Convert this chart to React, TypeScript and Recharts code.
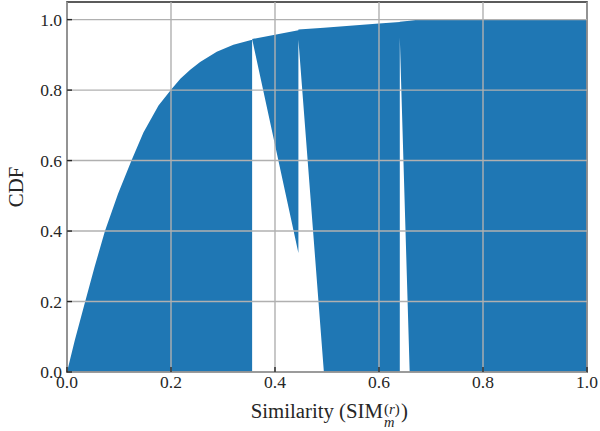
import { ComposedChart, Area, XAxis, YAxis, ReferenceLine, ReferenceArea, Label } from 'recharts'

// CDF outline: x position, lower and upper edge of the filled band
const simX = [
  0, 0.015, 0.035, 0.053, 0.073, 0.098, 0.124, 0.147, 0.176, 0.2, 0.218, 0.237, 0.256, 0.288, 0.32, 0.356,
  0.356, 0.445,
  0.445, 0.494, 0.6, 0.64,
  0.64, 0.659, 0.678, 1.0,
]
const cdfLow = [
  0, 0, 0, 0, 0, 0, 0, 0, 0, 0, 0, 0, 0, 0, 0, 0,
  0.945, 0.338,
  0.943, 0, 0, 0,
  0.949, 0, 0, 0,
]
const cdfHigh = [
  0, 0.09, 0.2, 0.298, 0.4, 0.505, 0.6, 0.68, 0.756, 0.801, 0.832, 0.858, 0.88, 0.909, 0.929, 0.943,
  0.945, 0.97,
  0.972, 0.977, 0.989, 0.993,
  0.994, 0.997, 1.0, 1.0,
]

const xTicks = [0, 0.2, 0.4, 0.6, 0.8, 1.0]
const yTicks = [0, 0.2, 0.4, 0.6, 0.8, 1.0]

const data = simX.map((x, i) => ({ x, band: [cdfLow[i], cdfHigh[i]] }))

const FONT = '"Liberation Serif", "Times New Roman", Times, serif'
const INK = '#262626'
const BLUE = '#1f77b4'
const GRID = '#b0b0b0'

function XLabel({ viewBox }: any) {
  const { x, y, width } = viewBox
  const cx = x + width / 2
  const base = y + 46.3
  return (
    <g style={{ fontFamily: FONT }} fill={INK}>
      <text x={cx + 56} y={base} fontSize={20.8} textAnchor="end">Similarity (SIM</text>
      <text x={cx + 57} y={base + 8.4} fontSize={14.5} fontStyle="italic">m</text>
      <text x={cx + 57} y={base - 4.8} fontSize={15}>
        (<tspan fontStyle="italic">r</tspan>)
      </text>
      <text x={cx + 74} y={base} fontSize={20.8}>)</text>
    </g>
  )
}

function YLabel({ viewBox }: any) {
  const { x, y, height } = viewBox
  const tx = x + 23
  const ty = y + height / 2
  return (
    <text
      x={tx}
      y={ty}
      transform={`rotate(-90, ${tx}, ${ty})`}
      textAnchor="middle"
      style={{ fontFamily: FONT }}
      fontSize={20.8}
      fill={INK}
    >
      CDF
    </text>
  )
}

export default function App() {
  const tick = { fontSize: 17.5, fill: INK, fontFamily: FONT, style: { fontFamily: FONT } }
  return (
    <div style={{ position: 'absolute', left: 0, top: 0, fontFamily: FONT }}>
      <ComposedChart
        width={600}
        height={431}
        data={data}
        margin={{ top: 2, right: 13, bottom: 0, left: 0 }}
        style={{ fontFamily: FONT }}
      >
        <XAxis
          type="number"
          dataKey="x"
          domain={[0, 1]}
          ticks={xTicks}
          tickFormatter={(v: number) => v.toFixed(1)}
          axisLine={false}
          tickLine={{ stroke: INK, strokeWidth: 1.4 }}
          tickSize={-5}
          tickMargin={9}
          tick={tick}
          height={59}
          interval={0}
        >
          <Label content={XLabel} />
        </XAxis>
        <YAxis
          type="number"
          domain={[0, 1.05]}
          ticks={yTicks}
          tickFormatter={(v: number) => v.toFixed(1)}
          axisLine={false}
          tickLine={{ stroke: INK, strokeWidth: 1.4 }}
          tickSize={-5}
          tickMargin={10}
          tick={tick}
          width={67}
          interval={0}
        >
          <Label content={YLabel} />
        </YAxis>
        <Area
          type="linear"
          dataKey="band"
          stroke="none"
          fill={BLUE}
          fillOpacity={1}
          isAnimationActive={false}
          dot={false}
          activeDot={false}
        />
        {xTicks.map(t => (
          <ReferenceLine key={`gx${t}`} x={t} stroke={GRID} strokeWidth={1.4} />
        ))}
        {yTicks.map(t => (
          <ReferenceLine key={`gy${t}`} y={t} stroke={GRID} strokeWidth={1.4} />
        ))}
        <ReferenceArea
          x1={0}
          x2={1}
          y1={0}
          y2={1.05}
          fill="none"
          fillOpacity={0}
          stroke={INK}
          strokeWidth={1.6}
          strokeOpacity={1}
        />
      </ComposedChart>
    </div>
  )
}
